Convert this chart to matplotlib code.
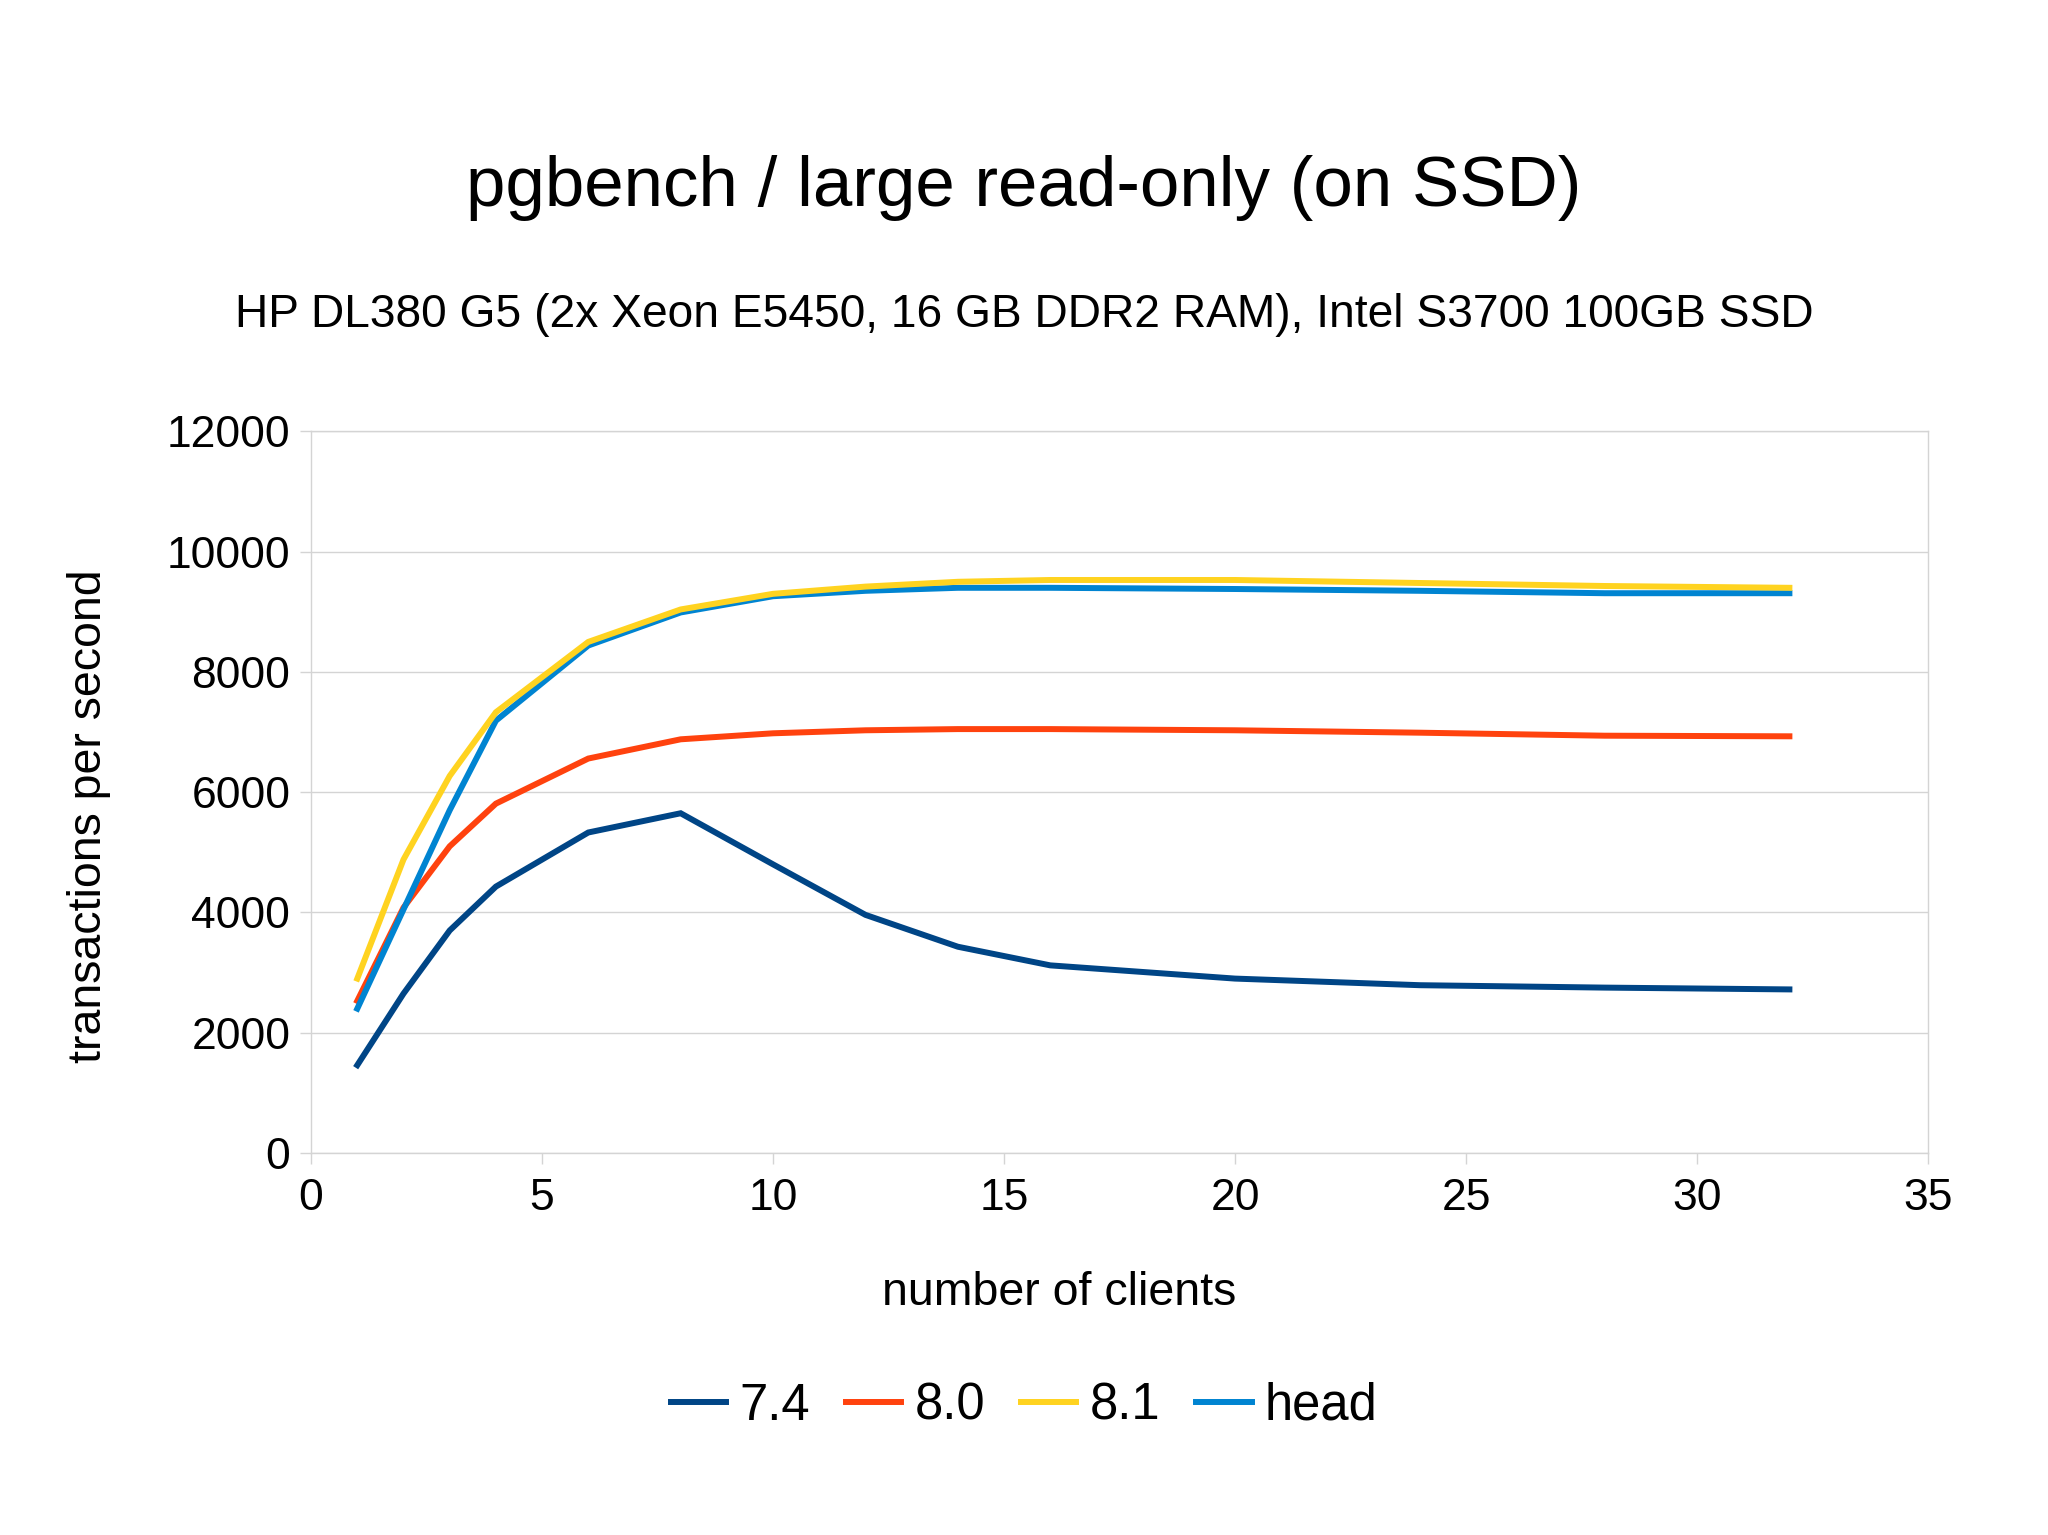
import numpy as np
import matplotlib
matplotlib.use("Agg")
import matplotlib.pyplot as plt

plt.rcParams["font.family"] = ["Liberation Sans", "DejaVu Sans"]

# number of clients
clients = [1, 2, 3, 4, 6, 8, 10, 12, 14, 16, 20, 24, 28, 32]

# transactions per second for each version
tps_74 = [1460, 2650, 3700, 4430, 5330, 5650, 4800, 3960, 3430, 3120, 2900, 2790, 2750, 2720]
tps_80 = [2530, 4080, 5100, 5810, 6560, 6880, 6980, 7030, 7050, 7050, 7030, 6990, 6940, 6930]
tps_81 = [2900, 4880, 6270, 7330, 8500, 9040, 9300, 9420, 9500, 9530, 9530, 9480, 9430, 9400]
tps_head = [2400, 4050, 5700, 7190, 8440, 8990, 9260, 9350, 9400, 9400, 9380, 9350, 9310, 9310]

labels = ["7.4", "8.0", "8.1", "head"]
colors = ["#004586", "#ff420e", "#ffd320", "#0084d1"]
grid_col = "#d4d4d4"

fig = plt.figure(figsize=(20.48, 15.35), dpi=100)
ax = fig.add_axes([0.1519, 0.2489, 0.7895, 0.4700])

lines = {}
series = [tps_74, tps_80, tps_81, tps_head]
zorders = [2, 3, 5, 4]
for lab, col, vals, z in zip(labels, colors, series, zorders):
    lines[lab], = ax.plot(clients, vals, color=col, linewidth=4.3, label=lab,
                          zorder=z, solid_joinstyle="miter")

ax.set_xlim(0, 35)
ax.set_ylim(0, 12000)
ax.set_xticks(np.arange(0, 36, 5))
ax.set_yticks(np.arange(0, 12001, 2000))
ax.yaxis.grid(True, color=grid_col, linewidth=1.0)
ax.set_axisbelow(True)
for sp in ax.spines.values():
    sp.set_color(grid_col)
    sp.set_linewidth(1.0)
ax.tick_params(axis="both", direction="out", length=8, width=1.0,
               color=grid_col, labelsize=32, pad=7, labelcolor="black")
ax.tick_params(axis="x", pad=10)

fig.text(0.5, 1 - 206 / 1535, "pgbench / large read-only (on SSD)",
         ha="center", va="baseline", fontsize=51)
fig.text(0.5, 1 - 327 / 1535,
         "HP DL380 G5 (2x Xeon E5450, 16 GB DDR2 RAM), Intel S3700 100GB SSD",
         ha="center", va="baseline", fontsize=33.2)
fig.text(0.517, 1 - 1293 / 1535, "number of clients",
         ha="center", va="center", fontsize=33.5)
fig.text(0.0435, 1 - 816 / 1535, "transactions per second",
         ha="center", va="center", rotation=90, fontsize=33.5)

fig.legend([lines[l] for l in labels], labels, loc="center",
           bbox_to_anchor=(0.5, 1 - 1406 / 1535), ncol=4, frameon=False,
           fontsize=36.5, handlelength=1.1, handletextpad=0.26,
           columnspacing=0.7)

fig.savefig("out.png", dpi=100, facecolor="white")
